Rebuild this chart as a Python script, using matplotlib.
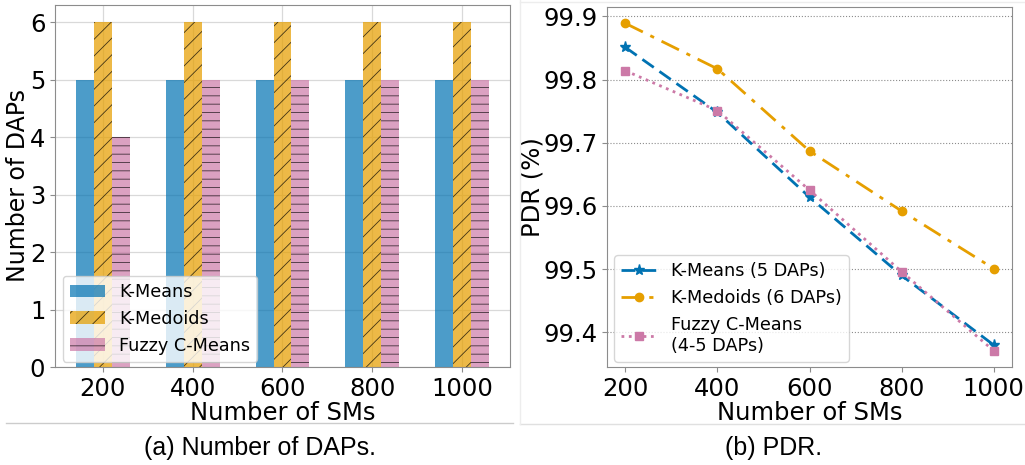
import numpy as np
import matplotlib.pyplot as plt
from matplotlib.lines import Line2D

# data
num_sms = [200, 400, 600, 800, 1000]
daps_kmeans = [5, 5, 5, 5, 5]
daps_kmedoids = [6, 6, 6, 6, 6]
daps_fuzzy = [4, 5, 5, 5, 5]

pdr_kmeans = [99.851, 99.748, 99.614, 99.490, 99.380]
pdr_kmedoids = [99.889, 99.817, 99.687, 99.592, 99.501]
pdr_fuzzy = [99.814, 99.751, 99.625, 99.496, 99.371]

bar_labels = ['K-Means', 'K-Medoids', 'Fuzzy C-Means']
line_labels = ['K-Means (5 DAPs)', 'K-Medoids (6 DAPs)', 'Fuzzy C-Means\n(4-5 DAPs)']

blue, orange, pink = '#0072B2', '#E69F00', '#CC79A7'
spine_col = '0.55'
plt.rcParams['hatch.linewidth'] = 0.6

fig = plt.figure(figsize=(10.25, 4.65), dpi=100)

# (a) number of DAPs
ax1 = fig.add_axes([55 / 1025, 98 / 465, 455 / 1025, 362 / 465])
x = np.arange(len(num_sms))
w = 0.2
ax1.bar(x - w, daps_kmeans, w, color=blue, alpha=0.7, label=bar_labels[0], linewidth=0)
ax1.bar(x, daps_kmedoids, w, color=orange, alpha=0.72, hatch='//', edgecolor='black',
        linewidth=0, label=bar_labels[1])
ax1.bar(x + w, daps_fuzzy, w, color=pink, alpha=0.7, hatch='--', edgecolor='black',
        linewidth=0, label=bar_labels[2])
ax1.set_xticks(x)
ax1.set_xticklabels([str(v) for v in num_sms])
ax1.set_xlabel('Number of SMs', fontsize=17.5, labelpad=0)
ax1.set_ylabel('Number of DAPs', fontsize=17, labelpad=0)
ax1.tick_params(labelsize=17.5, color=spine_col)
ax1.grid(True, color='0.85', linewidth=0.9)
ax1.set_axisbelow(True)
ax1.legend(loc='lower left', fontsize=12.7, bbox_to_anchor=(0.005, 0.0), borderaxespad=0.3)
for s in ax1.spines.values():
    s.set_color(spine_col)

# (b) PDR
ax2 = fig.add_axes([607 / 1025, 98 / 465, 405 / 1025, 360 / 465])
ax2.plot(num_sms, pdr_kmeans, linestyle=(0, (5, 2.5)), marker='*', color=blue,
         linewidth=2, markersize=8, label=line_labels[0])
ax2.plot(num_sms, pdr_kmedoids, linestyle=(0, (7, 3, 1.5, 3)), marker='o', color=orange,
         linewidth=2, markersize=6, label=line_labels[1])
ax2.plot(num_sms, pdr_fuzzy, linestyle=':', marker='s', color=pink,
         linewidth=2, markersize=6, label=line_labels[2])
ax2.set_xticks(num_sms)
ax2.set_yticks([99.4, 99.5, 99.6, 99.7, 99.8, 99.9])
ax2.set_xlabel('Number of SMs', fontsize=17.5, labelpad=0)
ax2.set_ylabel('PDR (%)', fontsize=17.5, labelpad=-1)
ax2.tick_params(labelsize=17.5, color=spine_col)
ax2.yaxis.grid(True, linestyle=':', color='0.55', linewidth=0.8)
ax2.legend(loc='lower left', fontsize=12.7, bbox_to_anchor=(0.005, 0.0), borderaxespad=0.3)
for s in ax2.spines.values():
    s.set_color(spine_col)

# subfigure frames and captions
fig.add_artist(Line2D([6 / 1025, 513 / 1025], [1 - 423 / 465] * 2, color='0.8', linewidth=1))
fig.add_artist(Line2D([520 / 1025, 1], [1 - 424 / 465] * 2, color='0.88', linewidth=1))
fig.add_artist(Line2D([520 / 1025] * 2, [1 - 424 / 465, 1], color='0.93', linewidth=1))
fig.add_artist(Line2D([520 / 1025, 1], [1 - 2 / 465] * 2, color='0.93', linewidth=1))
fig.text(260 / 1025, 1 - 448 / 465, '(a) Number of DAPs.', ha='center', va='center',
         fontsize=18, family='Liberation Sans')
fig.text(774 / 1025, 1 - 448 / 465, '(b) PDR.', ha='center', va='center',
         fontsize=18, family='Liberation Sans')

fig.savefig('out.png', dpi=100)
